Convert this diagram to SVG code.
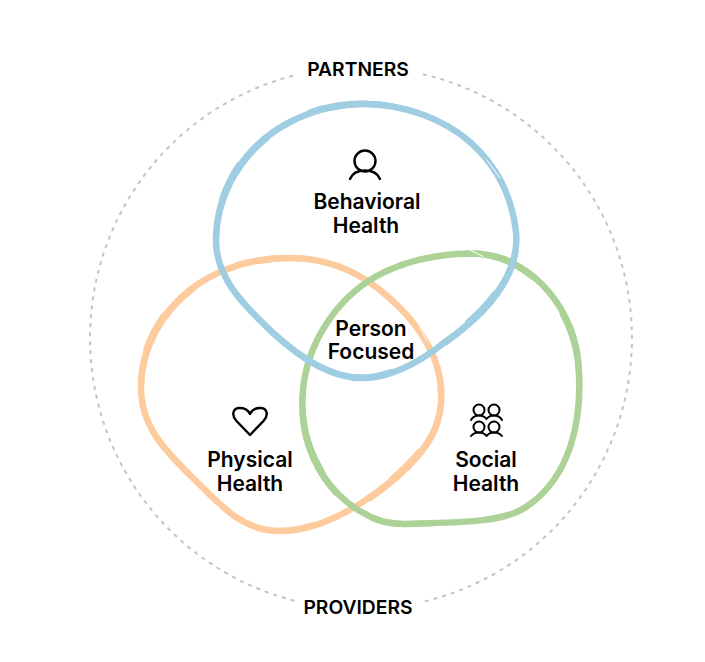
<svg xmlns="http://www.w3.org/2000/svg" width="705" height="662" viewBox="0 0 705 662">
<style>
text{font-family:"Inter","Liberation Sans",sans-serif;font-weight:600;font-size:21px;fill:#000;text-anchor:middle}
.cap{font-size:19.300px}
.loop{fill:none;stroke-width:6.500;stroke-linecap:round;stroke-linejoin:round}
.rough{fill:none;stroke-width:2;stroke-linecap:round}
.r1{stroke-dasharray:70 45 110 60 40 90}
.r2{stroke-dasharray:45 85 65 40 120 70}
.cut{fill:none;stroke:#fff;stroke-width:1;stroke-linecap:round}
.dash{fill:none;stroke:#c4c4c4;stroke-width:2;stroke-dasharray:4 5}
.icon{fill:none;stroke:#000;stroke-width:2.400;stroke-linecap:round;stroke-linejoin:round}
.thin{stroke-width:2}
.b{stroke:#9fcde2}.o{stroke:#fdcb9d}.g{stroke:#add297}
</style>
<defs>
<path id="pb" d="M365 104C405 104 445 120 470 142C495 164 512 195 516 232C520 272 490 310 445 342C420 362 390 378 362 378C330 378 300 358 272 332C240 302 215 275 216 238C217 190 245 145 290 122C315 109 340 104 365 104Z"/>
<path id="po" d="M290 258C325 258 355 270 380 290C405 310 425 335 435 360C446 392 444 425 418 455C395 482 335 531 280 531C245 531 225 510 200 485C170 455 140 430 141 385C142 335 175 290 225 270C245 262 270 258 290 258Z"/>
<path id="pg" d="M470 253.500C525 253 570 300 578 360C584 420 570 478 526 507C500 525 440 522 405 524C370 525 340 500 325 478C308 452 300 425 303 390C307 345 335 300 375 277C405 260 440 254 470 253.500Z"/>
</defs>
<rect width="705" height="662" fill="#fff"/>
<g id="connectors">
<path class="dash" d="M293 75.700A271 271 0 0 0 296 601.100"/>
<path class="dash" d="M423 74.200A271 271 0 0 1 423 601.800"/>
</g>
<g id="physical-health">
<use href="#po" class="loop o"/>
<use href="#po" class="rough o r1" x="-2.500" y="-2"/>
<use href="#po" class="rough o r2" x="2" y="2"/>
<path class="cut" d="M420 327L427 341"/>
<path class="icon" d="M250 435L236.500 421C231 415 233 408.500 239 408C244 407.500 248 410 250 414C252 410 256 407.500 261 408C267 408.500 269 415 263.500 421Z"/>
<text x="250" y="467">Physical</text>
<text x="250" y="491">Health</text>
</g>
<g id="social-health">
<use href="#pg" class="loop g"/>
<use href="#pg" class="rough g r2" x="2" y="-2"/>
<use href="#pg" class="rough g r1" x="-2" y="2"/>
<path class="cut" d="M470 250L483 256.500"/>
<g class="icon thin">
<circle cx="479" cy="410" r="5.500"/><circle cx="494" cy="410" r="5.500"/><circle cx="479" cy="427" r="5.500"/><circle cx="494" cy="427" r="5.500"/>
<path d="M471 420C473 416.500 476 415.500 479 415.500C483 415.500 485 417 486.500 419C488 417 490 415.500 494 415.500C497 415.500 500 416.500 502 420M471 436C473 433.500 476 432.500 479 432.500C483 432.500 485 434 486.500 436C488 434 490 432.500 494 432.500C497 432.500 500 433.500 502 436"/>
</g>
<text x="486" y="467">Social</text>
<text x="486" y="491">Health</text>
</g>
<g id="behavioral-health">
<use href="#pb" class="loop b"/>
<use href="#pb" class="rough b r1" x="-2" y="-2.500"/>
<use href="#pb" class="rough b r2" x="2" y="2"/>
<path class="cut" d="M487 160L500 178"/>
<path class="icon" d="M350 179C352 174 357 170.500 365 170.500C373 170.500 378 174 380 179"/>
<circle class="icon" cx="365" cy="161" r="10.500"/>
<text x="367" y="209">Behavioral</text>
<text x="366" y="233">Health</text>
</g>
<g id="person-focused">
<text x="371" y="335.500">Person</text>
<text x="371" y="359">Focused</text>
</g>
<g id="partners"><text class="cap" x="358" y="76">PARTNERS</text></g>
<g id="providers"><text class="cap" x="358" y="613.500">PROVIDERS</text></g>
</svg>
